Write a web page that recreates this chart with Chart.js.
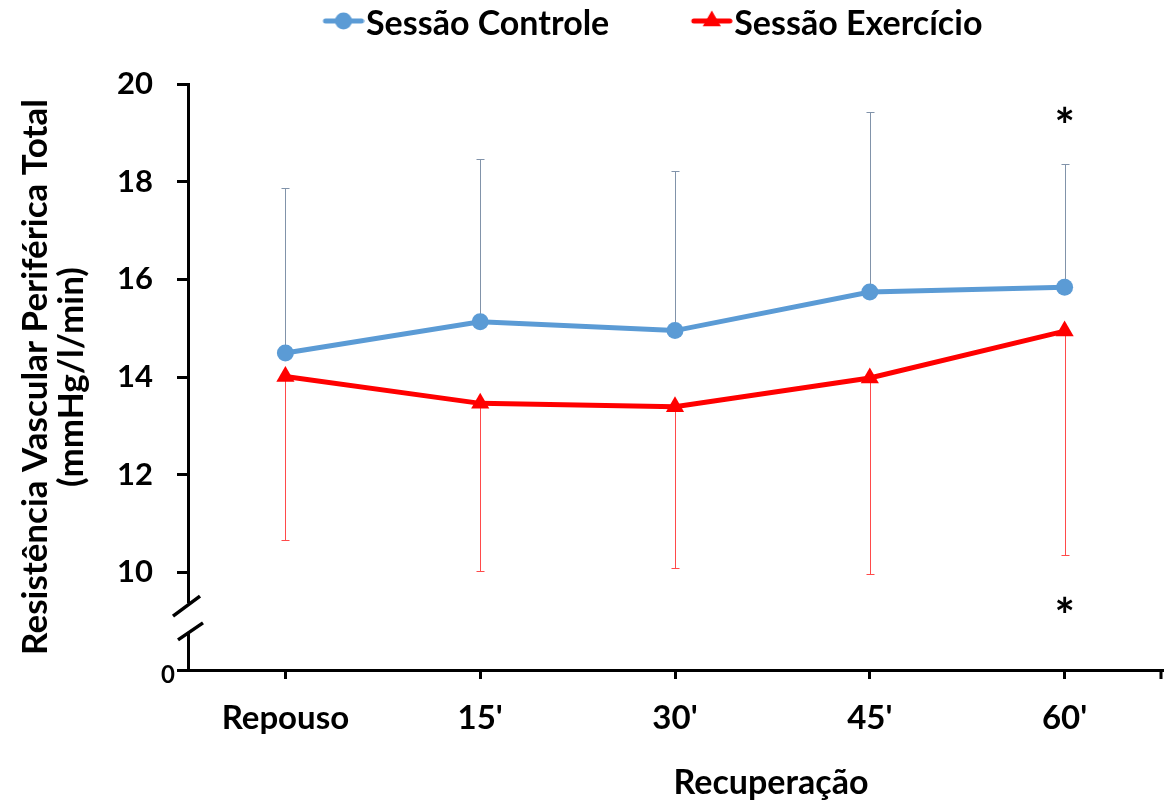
<!DOCTYPE html>
<html><head><meta charset="utf-8">
<script src="https://cdn.jsdelivr.net/npm/chart.js@4.4.1/dist/chart.umd.min.js"></script>
<style>html,body{margin:0;padding:0;background:#fff;} #wrap{width:1165px;height:805px;position:relative;}</style>
</head><body><div id="wrap"><canvas id="c" width="1165" height="805"></canvas></div>
<script>
const categories = ['Repouso', "15'", "30'", "45'", "60'"];
const controlMean = [14.49, 15.13, 14.95, 15.74, 15.84];
const controlSD = [3.38, 3.33, 3.27, 3.69, 2.52];
const exerciseMean = [14.01, 13.46, 13.39, 13.98, 14.94];
const exerciseSD = [3.35, 3.44, 3.31, 4.02, 4.59];
const yTickValues = [8, 10, 12, 14, 16, 18, 20];
const yTickLabels = ['0', '10', '12', '14', '16', '18', '20'];
const seriesNames = ['Sessão Controle', 'Sessão Exercício'];
const yTitle = ['Resistência Vascular Periférica Total', '(mmHg/l/min)'];
const xTitle = 'Recuperação';
const sigMarks = [{index: 4, value: 19.35}, {index: 4, value: 9.32}];

const FAM = 'Lato, "DejaVu Sans", sans-serif';
const BLUE = '#5b9bd5', RED = '#ff0000';

function makeMarker(color, shape) {
  const c = document.createElement('canvas');
  c.width = 132; c.height = 28;
  const g = c.getContext('2d');
  const cy = 11;
  g.strokeStyle = color; g.lineWidth = 5; g.lineCap = 'round';
  g.beginPath(); g.moveTo(93, cy); g.lineTo(129, cy); g.stroke();
  g.fillStyle = color;
  if (shape === 'circle') { g.beginPath(); g.arc(111, cy, 8.5, 0, Math.PI * 2); g.fill(); }
  else {
    const r = 10.5;
    g.beginPath(); g.moveTo(111, cy - r); g.lineTo(111 + r * 0.866, cy + r / 2); g.lineTo(111 - r * 0.866, cy + r / 2); g.closePath(); g.fill();
  }
  return c;
}
const legendMarkers = [makeMarker(BLUE, 'circle'), makeMarker(RED, 'triangle')];
const LEG_PAD = 7;
const LEG_FONT = 34;

const helperPlugin = {
  id: 'helper',
  beforeLayout(chart) {
    const lg = chart.legend;
    if (lg && !lg._patched) {
      const f = lg.fit;
      lg.fit = function () { f.call(this); this.height = 84; };
      lg._patched = true;
    }
  },
  afterLayout(chart) {
    const lg = chart.legend;
    if (!lg || !lg.lineWidths) return;
    const rowX = (lg.left + LEG_PAD + lg.right - lg.lineWidths[0]) / 2;
    const d = 323 - (rowX + 75);
    lg.left += d; lg.right += d;
  },
  beforeDraw(chart) {
    // nudge the broken-axis "0" label closer to the axis, as in the original
    const ys = chart.scales.y;
    const items = ys.getLabelItems();
    items.forEach(it => {
      if (it.label === '0' && !it._moved) {
        it.options.translation[0] += 22;
        it.options.translation[1] += 5;
        it._moved = true;
      }
    });
  },
  beforeDatasetsDraw(chart) {
    const ctx = chart.ctx, ys = chart.scales.y;
    chart.data.datasets.forEach((ds, di) => {
      const meta = chart.getDatasetMeta(di);
      ctx.save();
      ctx.strokeStyle = ds.errorColor; ctx.lineWidth = 1;
      meta.data.forEach((pt, i) => {
        const x = Math.round(pt.x) + 0.5;
        const y0 = ys.getPixelForValue(ds.data[i]);
        const y1 = Math.round(ys.getPixelForValue(ds.data[i] + ds.errorDir * ds.errors[i])) + 0.5;
        ctx.beginPath(); ctx.moveTo(x, y0); ctx.lineTo(x, y1);
        ctx.moveTo(x - 4, y1); ctx.lineTo(x + 4, y1); ctx.stroke();
      });
      ctx.restore();
    });
  },
  afterDraw(chart) {
    const ctx = chart.ctx, ys = chart.scales.y, xs = chart.scales.x, ca = chart.chartArea;
    ctx.save();
    // axis break
    const ax = ca.left;
    const gTop = ys.getPixelForValue(9.37), gBot = ys.getPixelForValue(8.78);
    ctx.fillStyle = '#fff';
    ctx.fillRect(ax - 4, gTop, 8, gBot - gTop);
    ctx.strokeStyle = '#000'; ctx.lineWidth = 3.5; ctx.lineCap = 'butt';
    ctx.beginPath();
    ctx.moveTo(ax - 15, gTop + 13); ctx.lineTo(ax + 12, gTop - 7);
    ctx.moveTo(ax - 10, gBot + 8); ctx.lineTo(ax + 15, gBot - 9);
    ctx.stroke();
    // right end tick of x axis
    ctx.lineWidth = 3;
    ctx.beginPath(); ctx.moveTo(ca.right - 1, ca.bottom); ctx.lineTo(ca.right - 1, ca.bottom + 9); ctx.stroke();
    // x title
    ctx.fillStyle = '#000';
    ctx.font = 'bold 34px ' + FAM;
    ctx.textAlign = 'center'; ctx.textBaseline = 'alphabetic';
    ctx.fillText(xTitle, 771, 794);
    // significance marks
    ctx.font = 'bold 48px ' + FAM;
    sigMarks.forEach(m => {
      ctx.fillText('*', xs.getPixelForValue(m.index), ys.getPixelForValue(m.value) + 27);
    });
    ctx.restore();
  }
};

new Chart(document.getElementById('c'), {
  type: 'line',
  data: {
    labels: categories,
    datasets: [
      { label: seriesNames[0], data: controlMean, errors: controlSD, errorDir: 1, errorColor: '#8193aa',
        borderColor: BLUE, backgroundColor: BLUE, borderWidth: 5, pointStyle: 'circle', pointRadius: 8.5,
        pointHoverRadius: 8.5, pointBorderWidth: 0, tension: 0, fill: false },
      { label: seriesNames[1], data: exerciseMean, errors: exerciseSD, errorDir: -1, errorColor: '#ff4a4a',
        borderColor: RED, backgroundColor: RED, borderWidth: 5, pointStyle: 'triangle', pointRadius: 10.5,
        pointHoverRadius: 10.5, pointBorderWidth: 0, tension: 0, fill: false }
    ]
  },
  options: {
    responsive: false, animation: false, devicePixelRatio: 1,
    layout: { autoPadding: false, padding: { left: 0, right: 3, top: 0, bottom: 0 } },
    plugins: {
      tooltip: { enabled: false },
      legend: {
        position: 'top',
        labels: {
          usePointStyle: true, pointStyleWidth: 101, padding: LEG_PAD, color: '#000',
          font: { family: FAM, size: LEG_FONT, weight: 'bold' },
          generateLabels: (chart) => chart.data.datasets.map((ds, i) => ({
            text: ds.label, pointStyle: legendMarkers[i], fillStyle: ds.borderColor, strokeStyle: ds.borderColor,
            lineWidth: 0, hidden: false, datasetIndex: i, fontColor: '#000'
          }))
        }
      }
    },
    scales: {
      x: {
        type: 'category', offset: true,
        afterFit: (s) => { s.height = 135; },
        grid: { display: true, offset: false, drawOnChartArea: false, drawTicks: true, tickLength: 9, color: '#000', lineWidth: 3 },
        border: { display: true, color: '#000', width: 3 },
        ticks: { color: '#000', padding: 20, font: { family: FAM, size: 33, weight: 'bold' } }
      },
      y: {
        type: 'linear', min: 8, max: 20,
        afterFit: (s) => { s.width = 188; },
        afterBuildTicks: (s) => { s.ticks = yTickValues.map(v => ({ value: v })); },
        grid: { display: true, drawOnChartArea: false, drawTicks: true, tickLength: 11, color: '#000', lineWidth: 3 },
        border: { display: true, color: '#000', width: 3 },
        ticks: {
          color: '#000', padding: 24,
          callback: (v) => yTickLabels[yTickValues.indexOf(v)],
          font: (c) => (c.tick && c.tick.value === 8) ? { family: FAM, size: 24, weight: 'bold' } : { family: FAM, size: 31, weight: 'bold' }
        },
        title: {
          display: true, text: yTitle, color: '#000',
          font: { family: FAM, size: 35, weight: 'bold', lineHeight: 1.03 },
          padding: { top: 18, bottom: 0 }
        }
      }
    }
  },
  plugins: [helperPlugin]
});
</script></body></html>
